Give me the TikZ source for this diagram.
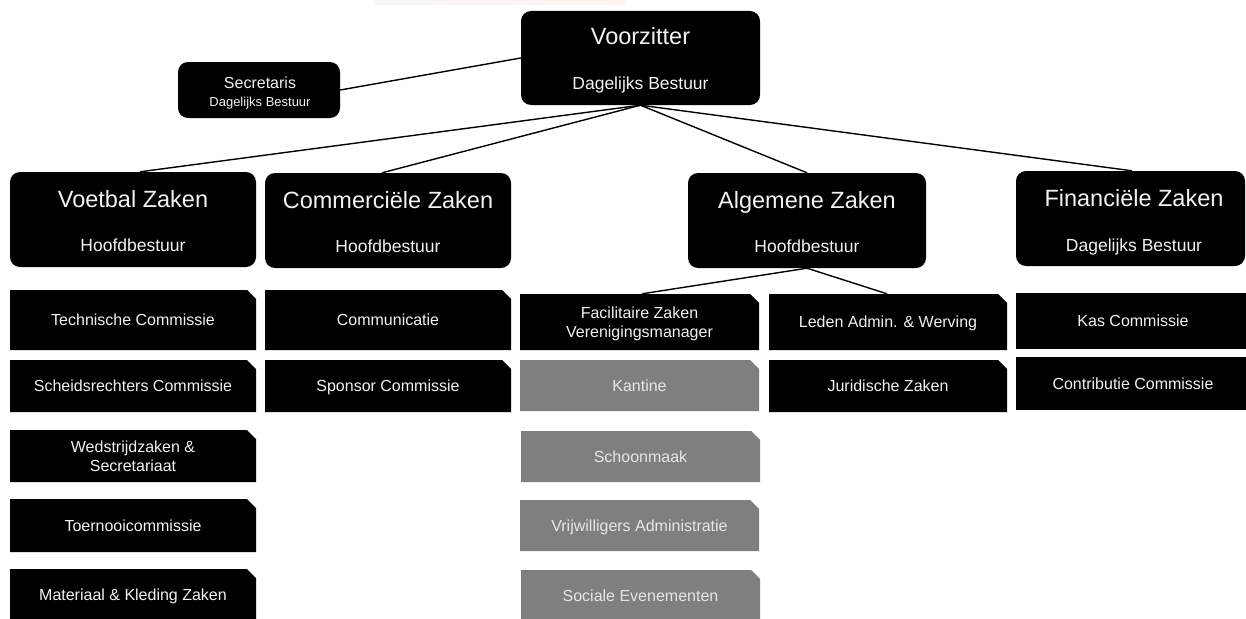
\documentclass[tikz,border=0pt]{standalone}
\usepackage{fontspec}
\setmainfont{Liberation Sans}
\definecolor{boxgray}{HTML}{7F7F7F}
\definecolor{txtwhite}{HTML}{F2F2F2}
\definecolor{txtgray}{HTML}{E6E6E6}
\tikzset{
  x=1pt, y=-1pt,
  conn/.style={draw=black, line width=1.4pt},
  headbox/.style={rectangle, rounded corners=10pt, fill=black, inner sep=0pt},
  bigtxt/.style={anchor=base, text=txtwhite, inner sep=0pt, font=\fontsize{23.5}{26}\selectfont},
  midtxt/.style={anchor=base, text=txtwhite, inner sep=0pt, font=\fontsize{17.5}{20}\selectfont},
  cutbox/.style={rectangle, inner sep=0pt, align=center, text=txtwhite, text depth=0pt,
    font=\fontsize{16}{18.5}\selectfont,
    path picture={\fill[#1] (path picture bounding box.south west) -- (path picture bounding box.north west)
      -- ([xshift=-9pt]path picture bounding box.north east) -- ([yshift=-9pt]path picture bounding box.north east)
      -- (path picture bounding box.south east) -- cycle;}},
  cutbox/.default=black,
  blackcut/.style={cutbox=black},
  graycut/.style={cutbox=boxgray, text=txtgray},
  plainbox/.style={rectangle, inner sep=0pt, align=center, fill=black, text=txtwhite, text depth=0pt,
    font=\fontsize{16}{18.5}\selectfont},
  colA/.style={minimum width=246pt},
  colC/.style={minimum width=239pt},
  colD/.style={minimum width=238pt},
}
\begin{document}
\begin{tikzpicture}
\useasboundingbox (0,0) rectangle (1246,618);
\shade[left color=gray!8, right color=red!5] (375,0) rectangle (625,5);

% top level
\node[headbox, minimum width=239pt, minimum height=94pt] (vz) at (640.5,58) {};
\node[bigtxt] (vzA) at (640.5,45) {Voorzitter};
\node[midtxt] (vzB) at (640.5,89) {Dagelijks Bestuur};

\node[headbox, minimum width=162pt, minimum height=56pt] (sec) at (259,90) {};
\node[anchor=base, text=txtwhite, inner sep=0pt, font=\fontsize{16}{18}\selectfont] (secA) at (260,88) {Secretaris};
\node[anchor=base, text=txtwhite, inner sep=0pt, font=\fontsize{13}{15}\selectfont] (secB) at (260,106) {Dagelijks Bestuur};

% second level
\node[headbox, minimum width=246pt, minimum height=95pt] (vb) at (133,219.5) {};
\node[bigtxt] (vbA) at (133,207) {Voetbal Zaken};
\node[midtxt] (vbB) at (133,251) {Hoofdbestuur};

\node[headbox, minimum width=246pt, minimum height=95pt] (cz) at (388,220.5) {};
\node[bigtxt] (czA) at (388,208) {Commerciële Zaken};
\node[midtxt] (czB) at (388,252) {Hoofdbestuur};

\node[headbox, minimum width=238pt, minimum height=95pt] (az) at (807,220.5) {};
\node[bigtxt] (azA) at (807,208) {Algemene Zaken};
\node[midtxt] (azB) at (807,252) {Hoofdbestuur};

\node[headbox, minimum width=229pt, minimum height=95pt] (fz) at (1130.5,218.5) {};
\node[bigtxt] (fzA) at (1134,206) {Financiële Zaken};
\node[midtxt] (fzB) at (1134,251) {Dagelijks Bestuur};

% Voetbal column
\node[blackcut, colA, minimum height=60pt] (tc) at (133,320) {Technische Commissie};
\node[blackcut, colA, minimum height=52pt] (sc) at (133,386) {Scheidsrechters Commissie};
\node[blackcut, colA, minimum height=52pt] (ws) at (133,456) {Wedstrijdzaken \&\\Secretariaat};
\node[blackcut, colA, minimum height=53pt] (to) at (133,525.5) {Toernooicommissie};
\node[blackcut, colA, minimum height=52pt] (mk) at (133,595) {Materiaal \& Kleding Zaken};

% Commercieel column
\node[blackcut, colA, minimum height=60pt] (co) at (388,320) {Communicatie};
\node[blackcut, colA, minimum height=52pt] (sp) at (388,386) {Sponsor Commissie};

% Algemene columns
\node[blackcut, colC, minimum height=56pt] (fa) at (639.5,322) {Facilitaire Zaken\\Verenigingsmanager};
\node[graycut, colC, minimum height=51pt] (ka) at (639.5,385.5) {Kantine};
\node[graycut, colC, minimum height=51pt] (sm) at (640.5,456.5) {Schoonmaak};
\node[graycut, colC, minimum height=51pt] (vr) at (639.5,525.5) {Vrijwilligers Administratie};
\node[graycut, colC, minimum height=51pt] (se) at (640.5,595.5) {Sociale Evenementen};

\node[blackcut, colD, minimum height=56pt] (le) at (888,322) {Leden Admin. \& Werving};
\node[blackcut, colD, minimum height=52pt] (ju) at (888,386) {Juridische Zaken};

% Financieel column
\node[plainbox, minimum width=234pt, minimum height=56pt] (ks) at (1133,321) {Kas Commissie};
\node[plainbox, minimum width=234pt, minimum height=53pt] (cc) at (1133,383.5) {Contributie Commissie};

% connectors
\draw[conn] (sec.east) -- (vz.west);
\draw[conn] (vz.south) -- ([xshift=7pt]vb.north);
\draw[conn] (vz.south) -- ([xshift=-6pt]cz.north);
\draw[conn] (vz.south) -- (az.north);
\draw[conn] (vz.south) -- ([xshift=1.5pt]fz.north);
\draw[conn] (az.south) -- ([xshift=2.5pt]fa.north);
\draw[conn] (az.south) -- ([xshift=-1pt]le.north);
\end{tikzpicture}
\end{document}
